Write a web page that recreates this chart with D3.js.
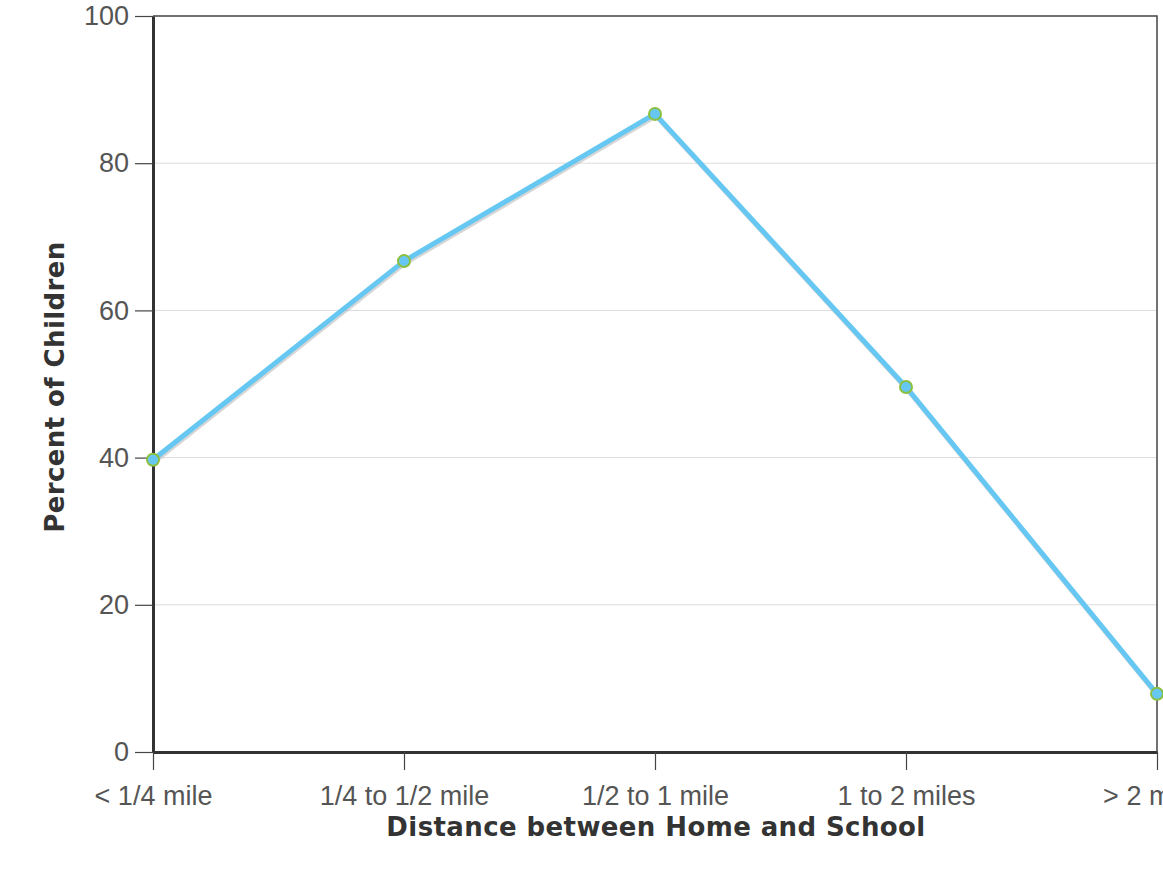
<!DOCTYPE html>
<html>
<head>
<title>Distance between Home and School</title>
<style>
    body { margin: 0; background: #fff; overflow: hidden; }
    .tick text { font-family: "Liberation Sans", Arial, sans-serif; font-size: 27px; fill: #555; }
    .title { font-family: "DejaVu Sans", sans-serif; font-weight: bold; font-size: 26px; letter-spacing: 0.4px; fill: #333; }
</style>
<script src="https://d3js.org/d3.v7.min.js"></script>
</head>
<body>
<script>
// data
var categories = ["< 1/4 mile", "1/4 to 1/2 mile", "1/2 to 1 mile", "1 to 2 miles", "> 2 miles"];
var percents = [39.7, 66.7, 86.7, 49.6, 7.9];
var yTicks = [0, 20, 40, 60, 80, 100];

var width = 1163, height = 873;
var plotLeft = 153, plotRight = 1157, plotTop = 16, plotBottom = 752;

var svg = d3.select("body").append("svg")
    .attr("width", width)
    .attr("height", height);

var x = d3.scalePoint().domain(categories).range([plotLeft, plotRight]);
var y = d3.scaleLinear().domain([0, 100]).range([plotBottom, plotTop]);

// gridlines
svg.append("g").selectAll("line")
    .data(yTicks.filter(function(d) { return d > 0 && d < 100; }))
    .enter().append("line")
    .attr("x1", plotLeft).attr("x2", plotRight)
    .attr("y1", function(d) { return y(d); })
    .attr("y2", function(d) { return y(d); })
    .attr("stroke", "#dcdcdc")
    .attr("stroke-width", 1);

// frame top and right
svg.append("path")
    .attr("d", "M" + plotLeft + "," + plotTop + "H" + plotRight + "V" + plotBottom)
    .attr("fill", "none")
    .attr("stroke", "#444")
    .attr("stroke-width", 1.5);

// axes
var yAxis = svg.append("g")
    .attr("transform", "translate(" + plotLeft + ",0)")
    .call(d3.axisLeft(y).tickValues(yTicks).tickSize(18).tickPadding(6).tickSizeOuter(0));
yAxis.select(".domain").attr("stroke", "#333").attr("stroke-width", 3);
yAxis.selectAll(".tick line").attr("stroke", "#444").attr("stroke-width", 1.2);

var xAxis = svg.append("g")
    .attr("transform", "translate(0," + plotBottom + ")")
    .call(d3.axisBottom(x).tickSize(18).tickPadding(16).tickSizeOuter(0));
xAxis.select(".domain").attr("stroke", "#333").attr("stroke-width", 3);
xAxis.selectAll(".tick line").attr("stroke", "#444").attr("stroke-width", 1.2);

// line with soft shadow
var line = d3.line()
    .x(function(d, i) { return x(categories[i]); })
    .y(function(d) { return y(d); });

svg.append("path")
    .datum(percents)
    .attr("d", line)
    .attr("transform", "translate(1,2)")
    .attr("fill", "none")
    .attr("stroke", "#bbb")
    .attr("stroke-opacity", 0.6)
    .attr("stroke-width", 5);

svg.append("path")
    .datum(percents)
    .attr("d", line)
    .attr("fill", "none")
    .attr("stroke", "#66c8f2")
    .attr("stroke-width", 5)
    .attr("stroke-linejoin", "round");

svg.append("g").selectAll("circle")
    .data(percents)
    .enter().append("circle")
    .attr("cx", function(d, i) { return x(categories[i]); })
    .attr("cy", function(d) { return y(d); })
    .attr("r", 6)
    .attr("fill", "#66c8f2")
    .attr("stroke", "#8cbf3f")
    .attr("stroke-width", 2);

// axis titles
svg.append("text")
    .attr("class", "title")
    .attr("x", 656)
    .attr("y", 836)
    .attr("text-anchor", "middle")
    .text("Distance between Home and School");

svg.append("text")
    .attr("class", "title")
    .attr("transform", "translate(64,387) rotate(-90)")
    .attr("text-anchor", "middle")
    .text("Percent of Children");
</script>
</body>
</html>
